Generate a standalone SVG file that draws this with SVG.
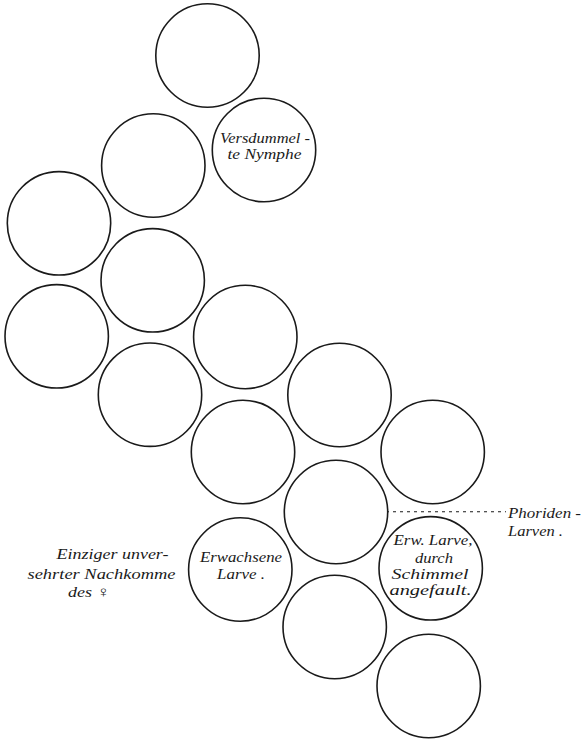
<svg xmlns="http://www.w3.org/2000/svg" width="587" height="739" viewBox="0 0 587 739">
<style>
.c{fill:#fff;stroke:#1a1a1a;stroke-width:1.6}
.t{font-family:"Liberation Serif","DejaVu Serif",serif;font-style:italic;font-size:15px;fill:#1a1a1a}
.m{text-anchor:middle}
.d{stroke:#1a1a1a;stroke-width:1.1;stroke-dasharray:3 4;fill:none}
</style>
<rect width="587" height="739" fill="#fff"/>
<g id="connectors">
<line class="d" x1="372" y1="511.7" x2="506" y2="511.7"/>
</g>
<g id="n1"><circle class="c" cx="207.5" cy="55.5" r="51.7"/></g>
<g id="n2"><circle class="c" cx="153.3" cy="165.5" r="51.7"/></g>
<g id="n3"><circle class="c" cx="264" cy="150" r="51.7"/>
<text class="t m" x="265" y="142.7" textLength="90" lengthAdjust="spacingAndGlyphs">Versdummel -</text>
<text class="t m" x="264.5" y="159.3" textLength="74" lengthAdjust="spacingAndGlyphs">te Nymphe</text></g>
<g id="n4"><circle class="c" cx="59" cy="223.3" r="51.7"/></g>
<g id="n5"><circle class="c" cx="152.7" cy="280.3" r="51.7"/></g>
<g id="n6"><circle class="c" cx="56.7" cy="336.3" r="51.7"/></g>
<g id="n7"><circle class="c" cx="245.3" cy="337" r="51.7"/></g>
<g id="n8"><circle class="c" cx="150" cy="394.7" r="51.7"/></g>
<g id="n9"><circle class="c" cx="339.5" cy="395" r="51.7"/></g>
<g id="n10"><circle class="c" cx="243" cy="452" r="51.7"/></g>
<g id="n11"><circle class="c" cx="432.7" cy="452" r="51.7"/></g>
<g id="n12"><circle class="c" cx="336" cy="512" r="51.7"/></g>
<g id="n13"><circle class="c" cx="240.3" cy="569.5" r="51.7"/>
<text class="t m" x="241" y="561.7" textLength="82" lengthAdjust="spacingAndGlyphs">Erwachsene</text>
<text class="t m" x="241" y="579" textLength="48" lengthAdjust="spacingAndGlyphs">Larve .</text></g>
<g id="n14"><circle class="c" cx="430.7" cy="568.3" r="51.7"/>
<text class="t m" x="433" y="545" textLength="79" lengthAdjust="spacingAndGlyphs">Erw. Larve,</text>
<text class="t m" x="434" y="562.7" textLength="38" lengthAdjust="spacingAndGlyphs">durch</text>
<text class="t m" x="430" y="579" textLength="77" lengthAdjust="spacingAndGlyphs">Schimmel</text>
<text class="t m" x="430.5" y="595" textLength="82" lengthAdjust="spacingAndGlyphs">angefault.</text></g>
<g id="n15"><circle class="c" cx="334.7" cy="627" r="51.7"/></g>
<g id="n16"><circle class="c" cx="428.7" cy="686" r="51.7"/></g>
<g id="label-phoriden">
<text class="t" x="508" y="518.3" textLength="73" lengthAdjust="spacingAndGlyphs">Phoriden -</text>
<text class="t" x="508" y="535.7" textLength="55" lengthAdjust="spacingAndGlyphs">Larven .</text>
</g>
<g id="label-einziger">
<text class="t m" x="112.5" y="559.3" textLength="112" lengthAdjust="spacingAndGlyphs">Einziger unver-</text>
<text class="t m" x="101.5" y="579.3" textLength="148" lengthAdjust="spacingAndGlyphs">sehrter Nachkomme</text>
<text class="t m" x="89" y="597.3" textLength="42" lengthAdjust="spacingAndGlyphs">des ♀</text>
</g>
</svg>
